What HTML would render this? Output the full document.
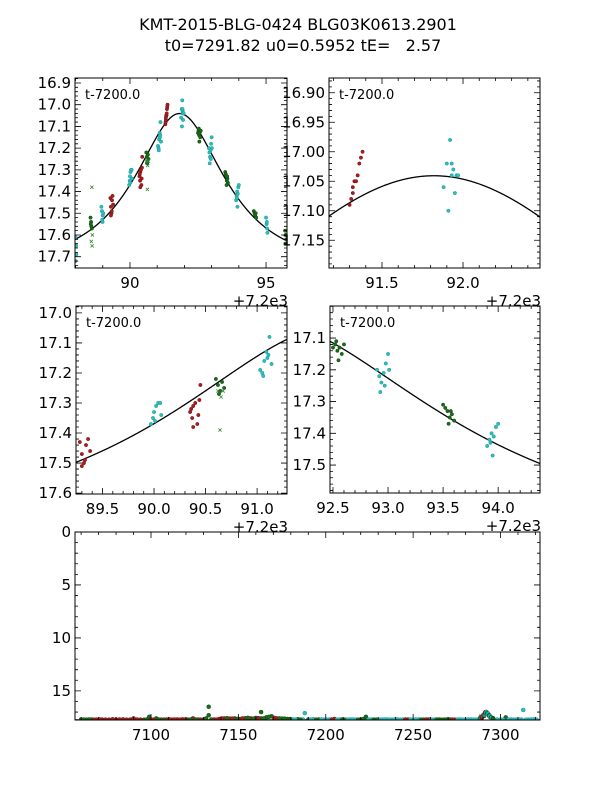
<!DOCTYPE html>
<html><head><meta charset="utf-8"><style>
html,body{margin:0;padding:0;background:#fff;}
svg{display:block;font-family:"DejaVu Sans","Liberation Sans",sans-serif;}
</style></head><body>
<svg id="fig" width="600" height="800" viewBox="0 0 600 800" xmlns="http://www.w3.org/2000/svg">
<rect width="600" height="800" fill="#fff"/>
<text x="298" y="30" font-size="16" text-anchor="middle">KMT-2015-BLG-0424 BLG03K0613.2901</text>
<text x="303" y="51" font-size="16" text-anchor="middle" xml:space="preserve">t0=7291.82 u0=0.5952 tE=   2.57</text>
</svg>
<script>
// model parameters
const t0 = 7291.82, u0 = 0.5952, tE = 2.57, baseMag = 17.735;
// zoom data: time (t-7200), magnitude, series (0 red, 1 green, 2 cyan, 3 green cross)
const peakT = [
 88.0,88.02,88.03,88.0,
 88.55,88.57,88.6,88.58,88.56, 88.6,88.62,88.58,88.61,
 88.95,88.97,89.0,88.98,89.02,88.99,
 89.28,89.3,89.32,89.3,89.34,89.36,89.38,89.33,
 89.97,89.99,90.0,90.02,90.04,90.06,90.01,90.07,
 90.35,90.37,90.38,90.4,90.42,90.43,90.44,90.38,90.36,90.45,
 90.6,90.62,90.64,90.66,90.68,90.63, 90.62,90.65,90.67,90.64,
 91.03,91.05,91.07,91.09,91.1,91.12,91.14,91.06,91.11,
 91.3,91.31,91.32,91.33,91.34,91.35,91.36,91.37,91.38,91.32,
 91.88,91.9,91.92,91.93,91.94,91.95,91.96,91.97,91.93,91.91,
 92.5,92.52,92.54,92.56,92.58,92.6,92.55,92.53,
 92.9,92.92,92.94,92.96,92.98,93.0,92.93,92.97,93.01,
 93.5,93.52,93.54,93.56,93.58,93.6,93.55,93.57,
 93.9,93.92,93.94,93.96,93.98,94.0,93.95,93.93,
 94.55,94.58,94.6,94.62,94.64,
 95.0,95.02,95.04,95.05,95.03,
 95.7,95.72,95.74,95.71
];
const peakM = [
 17.61,17.65,17.69,17.72,
 17.52,17.54,17.57,17.56,17.55, 17.38,17.6,17.63,17.65,
 17.47,17.49,17.51,17.53,17.5,17.54,
 17.43,17.47,17.5,17.51,17.44,17.42,17.46,17.49,
 17.37,17.35,17.33,17.31,17.3,17.3,17.36,17.34,
 17.33,17.35,17.31,17.3,17.37,17.34,17.29,17.38,17.32,17.24,
 17.22,17.24,17.26,17.23,17.25,17.27, 17.26,17.28,17.26,17.39,
 17.19,17.2,17.16,17.13,17.15,17.08,17.17,17.21,17.14,
 17.09,17.08,17.07,17.05,17.05,17.04,17.02,17.01,17.0,17.06,
 17.06,17.02,16.98,17.04,17.03,17.07,17.04,17.04,17.02,17.1,
 17.13,17.12,17.14,17.13,17.15,17.12,17.17,17.11,
 17.2,17.22,17.24,17.21,17.18,17.15,17.27,17.25,17.2,
 17.31,17.32,17.33,17.35,17.34,17.36,17.37,17.33,
 17.44,17.42,17.4,17.41,17.38,17.37,17.47,17.43,
 17.49,17.5,17.51,17.5,17.52,
 17.52,17.55,17.57,17.59,17.54,
 17.58,17.6,17.62,17.64
];
const peakS = [
 2,2,2,2,
 1,1,1,1,1, 3,3,3,3,
 2,2,2,2,2,2,
 0,0,0,0,0,0,0,0,
 2,2,2,2,2,2,2,2,
 0,0,0,0,0,0,0,0,0,0,
 1,1,1,1,1,1, 3,3,3,3,
 2,2,2,2,2,2,2,2,2,
 0,0,0,0,0,0,0,0,0,0,
 2,2,2,2,2,2,2,2,2,2,
 1,1,1,1,1,1,1,1,
 2,2,2,2,2,2,2,2,2,
 1,1,1,1,1,1,1,1,
 2,2,2,2,2,2,2,2,
 1,1,1,1,1,
 2,2,2,2,2,
 1,1,1,1
];
// full-season baseline data (HJD-2450000)
const baseT = [7060,7063,7066,7069,7072,7076,7080,7084,7088,7092,7096,7099,7100,7103,7106,7109,7112,7115,7118,7121,7124,7127,7130,7133,7133,7136,7139,7142,7145,7148,7151,7154,7157,7160,7163,7163,7166,7169,7172,7175,7178,7181,7184,7187,7188,7190,7193,7196,7199,7202,7205,7208,7211,7214,7217,7220,7223,7226,7229,7232,7235,7238,7241,7244,7247,7250,7253,7256,7259,7262,7265,7268,7271,7274,7277,7280,7283,7286,7300,7303,7306,7309,7312,7313,7316,7319,
 7061.5,7064.5,7067.5,7070.5,7074,7078,7082,7086,7090,7094,7097.5,7101.5,7104.5,7107.5,7110.5,7113.5,7116.5,7119.5,7122.5,7125.5,7128.5,7131.5,7134.5,7137.5,7140.5,7143.5,7146.5,7149.5,7152.5,7155.5,7158.5,7161.5,7164.5,7167.5,7170.5,7173.5,7176.5,7179.5,7182.5,7185.5,7191.5,7194.5,7197.5,7200.5,7203.5,7206.5,7209.5,7212.5,7215.5,7218.5,7221.5,7224.5,7227.5,7230.5,7233.5,7236.5,7239.5,7242.5,7245.5,7248.5,7251.5,7254.5,7257.5,7260.5,7263.5,7266.5,7269.5,7272.5,7275.5,7278.5,7281.5,7284.5,7298,7301.5,7304.5,7307.5,7310.5,7314.5,7317.5,7320.5];
const baseM = [17.7,17.72,17.7,17.71,17.7,17.72,17.7,17.69,17.71,17.7,17.72,17.45,17.7,17.6,17.71,17.7,17.72,17.7,17.69,17.71,17.6,17.7,17.72,16.5,17.3,17.7,17.65,17.6,17.62,17.6,17.65,17.58,17.6,17.55,17.0,17.6,17.5,17.4,17.6,17.62,17.65,17.7,17.68,17.7,17.1,17.71,17.68,17.7,17.72,17.71,17.65,17.7,17.72,17.7,17.71,17.7,17.45,17.7,17.72,17.71,17.7,17.72,17.7,17.71,17.7,17.72,17.7,17.71,17.7,17.72,17.7,17.71,17.7,17.72,17.7,17.71,17.7,17.72,17.71,17.5,17.7,17.72,17.7,16.8,17.71,17.7,
 17.71,17.7,17.72,17.7,17.71,17.68,17.7,17.72,17.6,17.71,17.7,17.72,17.7,17.71,17.69,17.7,17.72,17.7,17.71,17.7,17.72,17.6,17.7,17.71,17.6,17.58,17.62,17.65,17.6,17.55,17.62,17.58,17.6,17.45,17.55,17.6,17.62,17.66,17.7,17.71,17.7,17.72,17.7,17.71,17.7,17.72,17.7,17.71,17.7,17.72,17.65,17.7,17.71,17.72,17.7,17.71,17.7,17.72,17.7,17.71,17.7,17.72,17.7,17.71,17.7,17.72,17.7,17.71,17.7,17.72,17.7,17.71,17.7,17.72,17.7,17.71,17.7,17.72,17.7,17.71];
const baseS = [1,1,1,0,0,0,0,0,0,0,1,1,0,1,0,0,0,0,0,1,0,1,1,1,1,0,0,0,0,1,0,1,0,1,1,1,1,1,0,1,1,2,1,2,2,1,2,1,2,2,0,2,1,2,2,1,1,2,1,2,2,2,2,2,0,2,2,1,0,2,1,1,1,0,2,2,2,2,2,1,2,2,2,2,2,2,
 1,1,0,0,0,0,0,0,0,0,1,0,1,1,0,0,0,0,1,1,0,1,1,0,0,1,0,1,0,1,1,0,1,1,0,1,1,1,2,1,2,1,2,2,0,2,1,2,2,1,1,2,1,2,2,2,2,2,0,2,2,1,0,2,1,1,1,0,2,2,2,2,2,2,2,2,2,2,2,2];
// tick labels
const ticks1x = [90,95], ticks1y = [16.9,17.0,17.1,17.2,17.3,17.4,17.5,17.6,17.7];
const ticks2x = [91.5,92.0], ticks2y = [16.90,16.95,17.00,17.05,17.10,17.15];
const ticks3x = [89.5,90.0,90.5,91.0], ticks3y = [17.0,17.1,17.2,17.3,17.4,17.5,17.6];
const ticks4x = [92.5,93.0,93.5,94.0], ticks4y = [17.1,17.2,17.3,17.4,17.5];
const ticks5x = [7100,7150,7200,7250,7300], ticks5y = [0,5,10,15];

const NS = "http://www.w3.org/2000/svg";
const svg = document.getElementById('fig');
const colors = ['#a32020','#1c6b1c','#2fbcbc','#2a8a2a'];
const edge = ['#7a1010','#0e4a0e','#1a9a9a','#2a8a2a'];
function mk(tag, attrs, parent){const e=document.createElementNS(NS,tag);for(const k in attrs)e.setAttribute(k,attrs[k]);(parent||svg).appendChild(e);return e;}
function magModel(t){const d=(t-t0)/tE;const u2=u0*u0+d*d;const u=Math.sqrt(u2);const A=(u2+2)/(u*Math.sqrt(u2+4));return baseMag-2.5*Math.log10(A);}

const panels = [
 {name:'panel-full-peak',L:75,R:287,T:78,B:268,x0:87.98,x1:95.77,y0:16.877,y1:17.752,tx:ticks1x,ty:ticks1y,dec:1,xdec:0,xmin:1,ymin:0.02,label:true,offText:true,full:false},
 {name:'panel-peak-zoom',L:329,R:540,T:78,B:268,x0:91.173,x1:92.475,y0:16.875,y1:17.197,tx:ticks2x,ty:ticks2y,dec:2,xdec:1,xmin:0.1,ymin:0.01,label:true,offText:true,full:false},
 {name:'panel-rising',L:76,R:287,T:306,B:494,x0:89.243,x1:91.29,y0:16.977,y1:17.603,tx:ticks3x,ty:ticks3y,dec:1,xdec:1,xmin:0.1,ymin:0.02,label:true,offText:true,full:false},
 {name:'panel-falling',L:330,R:540,T:306,B:493,x0:92.473,x1:94.38,y0:16.999,y1:17.588,tx:ticks4x,ty:ticks4y,dec:1,xdec:1,xmin:0.1,ymin:0.02,label:true,offText:true,full:false},
 {name:'panel-full-season',L:75,R:540,T:532,B:720,x0:7056.5,x1:7322.6,y0:0,y1:17.75,tx:ticks5x,ty:ticks5y,dec:0,xdec:0,xmin:10,ymin:1,label:false,offText:false,full:true}
];

panels.forEach((p,pi)=>{
  const g = mk('g',{});
  
  
  const sx = v => p.L + (v-p.x0)/(p.x1-p.x0)*(p.R-p.L);
  const sy = v => p.T + (v-p.y0)/(p.y1-p.y0)*(p.B-p.T);
  mk('rect',{x:p.L,y:p.T,width:p.R-p.L,height:p.B-p.T,fill:'#fff'},g);
  const cid='clip'+pi;
  const cp=mk('clipPath',{id:cid},g);
  mk('rect',{x:p.L,y:p.T,width:p.R-p.L,height:p.B-p.T},cp);
  const plot=mk('g',{'clip-path':'url(#'+cid+')'},g);
  let d='';
  const N=600;
  for(let i=0;i<=N;i++){
    const x=p.x0+(p.x1-p.x0)*i/N;
    const t=p.full?x:x+7200;
    d+=(i?'L':'M')+sx(x).toFixed(2)+','+sy(magModel(t)).toFixed(2);
  }
  const curve=mk('path',{d:d,fill:'none',stroke:'#000','stroke-width':1.3},plot);
  
  
  const r = p.full?2.0:1.7;
  function drawPt(x,y,s){
    if(s===3){
      const c=mk('path',{d:`M${x-1.6},${y-1.6}L${x+1.6},${y+1.6}M${x-1.6},${y+1.6}L${x+1.6},${y-1.6}`,stroke:colors[3],'stroke-width':0.8,fill:'none'},plot);
      
      
    } else {
      const c=mk('circle',{cx:x,cy:y,r:r,fill:colors[s],stroke:edge[s],'stroke-width':0.5},plot);
      
      
    }
  }
  if(p.full){
    for(let i=0;i<baseT.length;i++) drawPt(sx(baseT[i]),sy(baseM[i]),baseS[i]);
    for(let i=0;i<peakT.length;i++) drawPt(sx(peakT[i]+7200),sy(peakM[i]),peakS[i]);
  } else {
    for(let i=0;i<peakT.length;i++) drawPt(sx(peakT[i]),sy(peakM[i]),peakS[i]);
  }
  mk('rect',{x:p.L,y:p.T,width:p.R-p.L,height:p.B-p.T,fill:'none',stroke:'#000','stroke-width':1},g);
  let tk='';
  const xs=Math.ceil(p.x0/p.xmin-1e-9), xe=Math.floor(p.x1/p.xmin+1e-9);
  for(let k=xs;k<=xe;k++){const x=sx(k*p.xmin);tk+=`M${x},${p.T}v3M${x},${p.B}v-3`;}
  const ys=Math.ceil(p.y0/p.ymin-1e-9), ye=Math.floor(p.y1/p.ymin+1e-9);
  for(let k=ys;k<=ye;k++){const y=sy(k*p.ymin);tk+=`M${p.L},${y}h3M${p.R},${y}h-3`;}
  p.tx.forEach(v=>{const x=sx(v);tk+=`M${x},${p.T}v6M${x},${p.B}v-6`;});
  p.ty.forEach(v=>{const y=sy(v);tk+=`M${p.L},${y}h6M${p.R},${y}h-6`;});
  mk('path',{d:tk,stroke:'#000','stroke-width':0.8,fill:'none'},g);
  p.tx.forEach(v=>{
    const t=mk('text',{x:sx(v),y:p.B+20,'font-size':15,'text-anchor':'middle'},g);
    t.textContent=v.toFixed(p.xdec);
    
    
  });
  p.ty.forEach(v=>{
    const t=mk('text',{x:p.L-4,y:sy(v)+5,'font-size':15,'text-anchor':'end'},g);
    t.textContent=v.toFixed(p.dec);
    
    
  });
  if(p.label){
    const t=mk('text',{x:p.L+10,y:p.T+21,'font-size':13},g);
    t.textContent='t-7200.0';
    
    
  }
  if(p.offText){
    const t=mk('text',{x:p.R+1,y:p.B+38,'font-size':15,'text-anchor':'end'},svg);
    t.textContent='+7.2e3';
    
    
  }
});
</script>
</body></html>
